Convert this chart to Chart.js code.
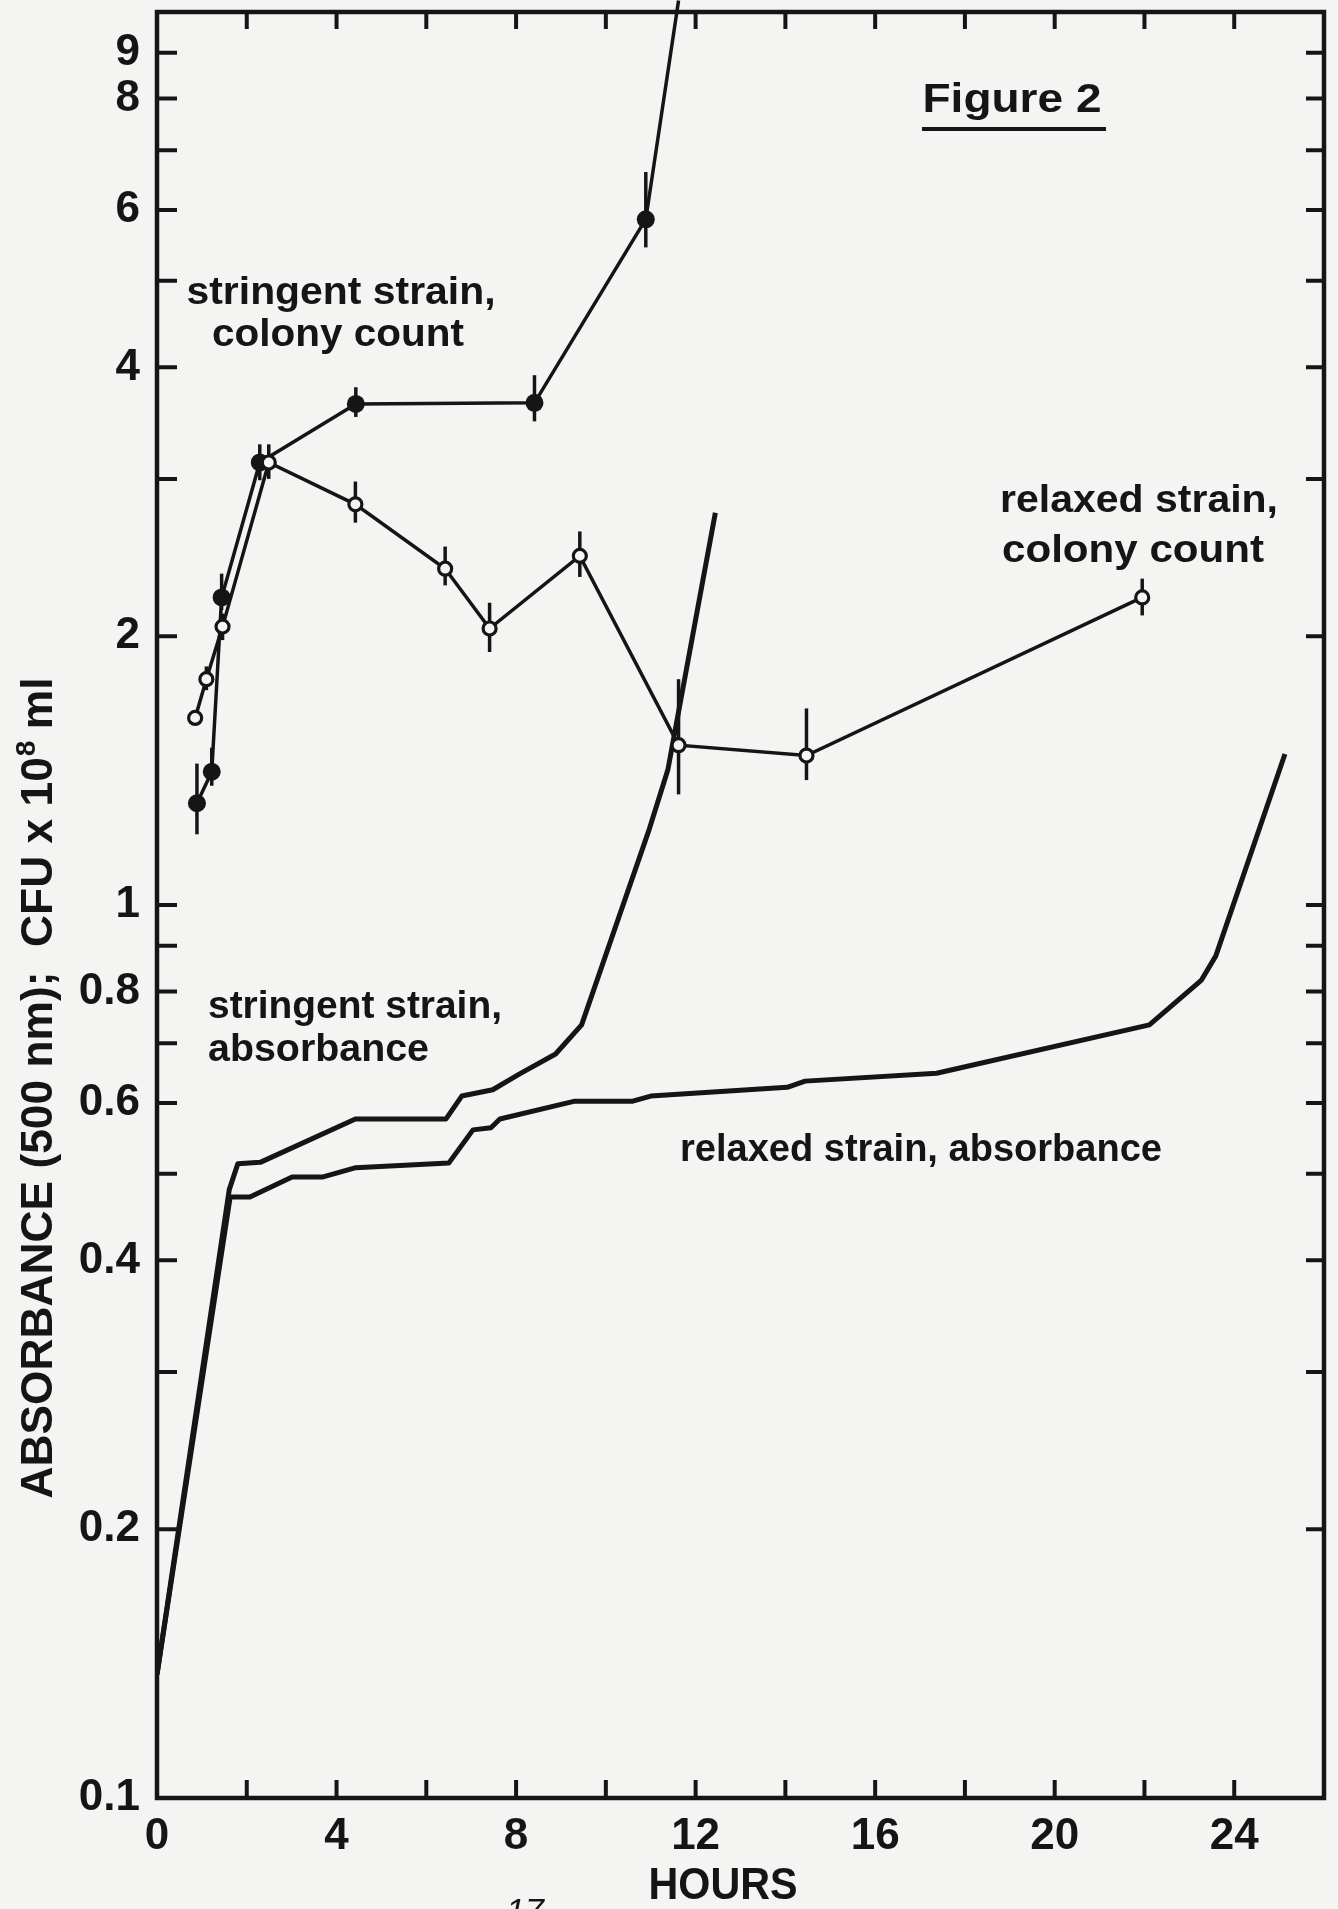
<!DOCTYPE html>
<html>
<head>
<meta charset="utf-8">
<script src="https://cdn.jsdelivr.net/npm/chart.js@4/dist/chart.umd.min.js"></script>
<style>
  html, body { margin: 0; padding: 0; background: #f4f4f2; }
  #wrap { width: 1338px; height: 1909px; }
</style>
</head>
<body>
<div id="wrap"><canvas id="figure2" width="1338" height="1909"></canvas></div>
<script>
const INK = "#151515";
const PAPER = "#f4f4f2";
const FONT = "'Liberation Sans', 'DejaVu Sans', sans-serif";

// axis ticks
const xTickValues = [0, 2, 4, 6, 8, 10, 12, 14, 16, 18, 20, 22, 24, 26];
const xTickLabels = ["0", "", "4", "", "8", "", "12", "", "16", "", "20", "", "24", ""];
const yTickValues = [0.1, 0.2, 0.3, 0.4, 0.5, 0.6, 0.7, 0.8, 0.9, 1, 2, 3, 4, 5, 6, 7, 8, 9, 10];
const yTickLabels = ["0.1", "0.2", "", "0.4", "", "0.6", "", "0.8", "", "1", "2", "", "4", "", "6", "", "8", "9", ""];

// stringent strain, colony count (filled circles); last point runs off the top
const stringentCfuHours = [0.89, 1.22, 1.44, 2.29, 4.43, 8.41, 10.89, 11.62];
const stringentCfu = [1.30, 1.41, 2.21, 3.13, 3.64, 3.65, 5.86, 10.3];
const stringentCfuLow = [1.20, 1.36, 2.14, 2.99, 3.52, 3.48, 5.45, null];
const stringentCfuHigh = [1.44, 1.50, 2.35, 3.28, 3.80, 3.92, 6.62, null];

// relaxed strain, colony count (open circles)
const relaxedCfuHours = [0.85, 1.10, 1.46, 2.49, 4.42, 6.42, 7.41, 9.42, 11.62, 14.47, 21.95];
const relaxedCfu = [1.62, 1.79, 2.05, 3.13, 2.81, 2.38, 2.04, 2.46, 1.51, 1.47, 2.21];
const relaxedCfuLow = [1.62, 1.74, 1.98, 3.00, 2.68, 2.28, 1.92, 2.33, 1.33, 1.38, 2.11];
const relaxedCfuHigh = [1.62, 1.85, 2.12, 3.28, 2.98, 2.52, 2.18, 2.62, 1.79, 1.66, 2.32];

// absorbance at 500 nm
const stringentAbsHours = [0, 1.61, 1.80, 2.30, 4.42, 6.44, 6.79, 7.48, 8.08, 8.88, 9.46, 10.97, 11.38, 12.44];
const stringentAbs = [0.1375, 0.48, 0.513, 0.515, 0.576, 0.576, 0.611, 0.621, 0.647, 0.681, 0.734, 1.217, 1.416, 2.75];
const relaxedAbsHours = [0, 1.63, 2.07, 3.01, 3.70, 4.43, 6.50, 7.04, 7.44, 7.64, 9.31, 10.60, 11.00, 14.04, 14.44, 17.37, 22.11, 23.27, 23.59, 25.13];
const relaxedAbs = [0.1375, 0.471, 0.471, 0.496, 0.496, 0.508, 0.514, 0.560, 0.563, 0.576, 0.603, 0.603, 0.611, 0.625, 0.635, 0.648, 0.734, 0.824, 0.877, 1.476];

function toPoints(xs, ys) {
	return xs.map((x, i) => ({ x: x, y: ys[i] }));
}

// draw text squeezed/stretched to a given width (lettering is wider than the fonts we have)
function fitText(ctx, text, x, y, width, align) {
	const w = ctx.measureText(text).width;
	ctx.save();
	ctx.translate(x, y);
	ctx.scale(width / w, 1);
	ctx.textAlign = align;
	ctx.fillText(text, 0, 0);
	ctx.restore();
}

const errorBars = [
	{ hours: stringentCfuHours, low: stringentCfuLow, high: stringentCfuHigh },
	{ hours: relaxedCfuHours, low: relaxedCfuLow, high: relaxedCfuHigh },
];

const errorBarPlugin = {
	id: "errorBars",
	beforeDatasetsDraw(chart) {
		const { ctx, scales } = chart;
		ctx.save();
		ctx.strokeStyle = INK;
		ctx.lineWidth = 3.5;
		errorBars.forEach((set) => {
			set.hours.forEach((h, i) => {
				if (set.low[i] == null || set.low[i] === set.high[i]) return;
				const x = scales.x.getPixelForValue(h);
				ctx.beginPath();
				ctx.moveTo(x, scales.y.getPixelForValue(set.low[i]));
				ctx.lineTo(x, scales.y.getPixelForValue(set.high[i]));
				ctx.stroke();
			});
		});
		ctx.restore();
	},
};

const framePlugin = {
	id: "frame",
	afterDraw(chart) {
		const { ctx, chartArea: a, scales } = chart;
		ctx.save();
		ctx.strokeStyle = INK;
		ctx.lineWidth = 4.5;
		ctx.strokeRect(a.left, a.top, a.right - a.left, a.bottom - a.top);

		ctx.lineWidth = 4;
		xTickValues.forEach((v) => {
			if (v === 0 || v === 26) return;
			const x = scales.x.getPixelForValue(v);
			ctx.beginPath();
			ctx.moveTo(x, a.bottom);
			ctx.lineTo(x, a.bottom - 18);
			ctx.moveTo(x, a.top);
			ctx.lineTo(x, a.top + 17);
			ctx.stroke();
		});
		yTickValues.forEach((v) => {
			if (v === 0.1 || v === 10) return;
			const y = scales.y.getPixelForValue(v);
			ctx.beginPath();
			ctx.moveTo(a.left, y);
			ctx.lineTo(a.left + 20, y);
			ctx.moveTo(a.right, y);
			ctx.lineTo(a.right - 18, y);
			ctx.stroke();
		});
		ctx.restore();
	},
};

const notesPlugin = {
	id: "notes",
	afterDraw(chart) {
		const ctx = chart.ctx;
		ctx.save();
		ctx.fillStyle = INK;
		ctx.textBaseline = "alphabetic";

		ctx.font = "bold 41px " + FONT;
		fitText(ctx, "Figure 2", 1012, 112, 179, "center");
		ctx.fillRect(922, 127, 184, 4);

		ctx.font = "bold 39px " + FONT;
		fitText(ctx, "stringent strain,", 341, 304, 309, "center");
		fitText(ctx, "colony count", 338, 346, 252, "center");
		fitText(ctx, "relaxed strain,", 1139, 512, 278, "center");
		fitText(ctx, "colony count", 1133, 562, 262, "center");
		fitText(ctx, "stringent strain,", 208, 1018, 294, "left");
		fitText(ctx, "absorbance", 208, 1061, 221, "left");
		fitText(ctx, "relaxed strain, absorbance", 680, 1161, 482, "left");

		ctx.font = "bold 45px " + FONT;
		fitText(ctx, "HOURS", 723, 1899, 149, "center");

		ctx.font = "italic 34px " + FONT;
		ctx.textAlign = "center";
		ctx.fillText("17", 525, 1922);

		// rotated axis title with a raised 8 in 10^8
		const part1 = "ABSORBANCE (500 nm);  CFU x 10";
		const part3 = " ml";
		ctx.font = "bold 44px " + FONT;
		const w1 = ctx.measureText(part1).width;
		const w3 = ctx.measureText(part3).width;
		ctx.font = "bold 28px " + FONT;
		const w2 = ctx.measureText("8").width;
		const sx = 821 / (w1 + w2 + w3);
		ctx.translate(52, 1088);
		ctx.rotate(-Math.PI / 2);
		ctx.scale(sx, 1);
		ctx.textAlign = "left";
		let x0 = -(w1 + w2 + w3) / 2;
		ctx.font = "bold 44px " + FONT;
		ctx.fillText(part1, x0, 0);
		ctx.font = "bold 28px " + FONT;
		ctx.fillText("8", x0 + w1 + 1, -17);
		ctx.font = "bold 44px " + FONT;
		ctx.fillText(part3, x0 + w1 + w2, 0);
		ctx.restore();
	},
};

const config = {
	type: "scatter",
	data: {
		datasets: [
			{
				label: "relaxed strain, colony count",
				data: toPoints(relaxedCfuHours, relaxedCfu),
				showLine: true,
				borderColor: INK,
				borderWidth: 3.5,
				pointRadius: 6.5,
				pointBorderWidth: 3.2,
				pointBackgroundColor: PAPER,
				pointBorderColor: INK,
			},
			{
				label: "stringent strain, colony count",
				data: toPoints(stringentCfuHours, stringentCfu),
				showLine: true,
				clip: false,
				borderColor: INK,
				borderWidth: 3.5,
				pointRadius: stringentCfuHours.map((h, i) => (i === stringentCfuHours.length - 1 ? 0 : 9)),
				pointBorderWidth: 0,
				pointBackgroundColor: INK,
				pointBorderColor: INK,
			},
			{
				label: "stringent strain, absorbance",
				data: toPoints(stringentAbsHours, stringentAbs),
				showLine: true,
				borderColor: INK,
				borderWidth: 5,
				borderJoinStyle: "round",
				pointRadius: 0,
			},
			{
				label: "relaxed strain, absorbance",
				data: toPoints(relaxedAbsHours, relaxedAbs),
				showLine: true,
				borderColor: INK,
				borderWidth: 5,
				borderJoinStyle: "round",
				pointRadius: 0,
			},
		],
	},
	options: {
		responsive: false,
		animation: false,
		devicePixelRatio: 1,
		layout: { padding: { top: 12, right: 14, left: 0, bottom: 0 } },
		plugins: {
			legend: { display: false },
			tooltip: { enabled: false },
		},
		scales: {
			x: {
				type: "linear",
				min: 0,
				max: 26,
				afterBuildTicks: (axis) => {
					axis.ticks = xTickValues.map((v) => ({ value: v }));
				},
				afterFit: (axis) => {
					axis.height = 111;
					axis.paddingLeft = 0;
					axis.paddingRight = 0;
				},
				grid: { display: false },
				border: { display: false },
				ticks: {
					autoSkip: false,
					maxRotation: 0,
					padding: 4,
					color: INK,
					font: { family: FONT, size: 44, weight: "bold" },
					callback: (value, index) => xTickLabels[index],
				},
			},
			y: {
				type: "logarithmic",
				min: 0.1,
				max: 10,
				afterBuildTicks: (axis) => {
					axis.ticks = yTickValues.map((v) => ({ value: v }));
				},
				afterFit: (axis) => {
					axis.width = 157;
					axis.paddingTop = 0;
					axis.paddingBottom = 0;
				},
				grid: { display: false },
				border: { display: false },
				ticks: {
					autoSkip: false,
					padding: 9,
					color: INK,
					font: { family: FONT, size: 44, weight: "bold" },
					callback: (value, index) => yTickLabels[index],
				},
			},
		},
	},
	plugins: [errorBarPlugin, framePlugin, notesPlugin],
};

const ctx = document.getElementById("figure2").getContext("2d");
const figureChart = new Chart(ctx, config);
</script>
</body>
</html>
